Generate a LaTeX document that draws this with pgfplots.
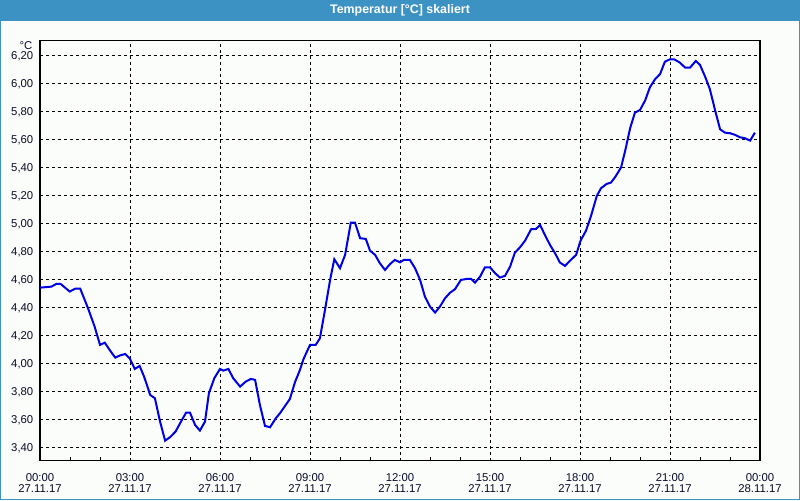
\documentclass[border=0pt]{standalone}
\usepackage{pgfplots}
\pgfplotsset{compat=1.18}
\usepackage{fontspec}
\setmainfont{Liberation Sans}
\definecolor{winblue}{RGB}{61,146,196}
\definecolor{bgc}{RGB}{251,253,251}
\definecolor{curve}{RGB}{0,0,228}
\definecolor{lbl}{RGB}{10,10,40}
\begin{document}
\begin{tikzpicture}
\useasboundingbox (0,0) rectangle (600pt,375pt);
\fill[bgc] (0,0) rectangle (600pt,375pt);
\fill[winblue] (0,359.5pt) rectangle (600pt,375pt);
\draw[winblue, line width=1.1pt] (0.55pt,0.55pt) rectangle (599.45pt,374.45pt);
\node[text=white, font=\fontsize{9.3}{10}\selectfont\bfseries] at (300pt,367.4pt) {Temperatur [°C] skaliert};
\begin{axis}[
  at={(30pt,29.5pt)}, anchor=south west,
  scale only axis, width=540pt, height=315pt,
  xmin=0, xmax=24, ymin=3.309, ymax=6.309,
  axis line style={black, line width=1.1pt},
  xtick={0,3,...,24},
  xticklabels={00:00\\[-2.6pt]27.11.17,03:00\\[-2.6pt]27.11.17,06:00\\[-2.6pt]27.11.17,09:00\\[-2.6pt]27.11.17,12:00\\[-2.6pt]27.11.17,15:00\\[-2.6pt]27.11.17,18:00\\[-2.6pt]27.11.17,21:00\\[-2.6pt]27.11.17,00:00\\[-2.6pt]28.11.17},
  minor xtick={1,2,4,5,7,8,10,11,13,14,16,17,19,20,22,23},
  ytick={3.4,3.6,3.8,4.0,4.2,4.4,4.6,4.8,5.0,5.2,5.4,5.6,5.8,6.0,6.2},
  yticklabel style={xshift=-1.5pt, /pgf/number format/fixed, /pgf/number format/fixed zerofill, /pgf/number format/precision=2, /pgf/number format/use comma, /pgf/number format/assume math mode=true},
  tick label style={font=\fontsize{8.5}{10.2}\selectfont, text=lbl},
  xticklabel style={align=center, yshift=-6.5pt},
  major tick length=0pt, minor tick length=3pt,
  tick align=inside, xtick pos=bottom, ytick pos=left,
  minor tick style={black, line width=0.75pt},
  grid=major,
  major grid style={black, line width=0.75pt, dash pattern=on 2.25pt off 2.25pt},
  clip=false,
]
\addplot[curve, line width=1.5pt] coordinates {
(0,4.545) (0.38,4.552) (0.54,4.571) (0.69,4.571) (0.99,4.517) (1.18,4.538) (1.34,4.538) (1.6,4.398) (1.82,4.267) (2.0,4.136)
(2.16,4.152) (2.32,4.10) (2.51,4.045) (2.66,4.06) (2.84,4.071) (2.99,4.04) (3.16,3.964) (3.32,3.986) (3.47,3.909) (3.6,3.826)
(3.67,3.779) (3.83,3.755) (4.0,3.59) (4.17,3.452) (4.33,3.476) (4.52,3.517) (4.7,3.588) (4.87,3.652) (5.0,3.652) (5.17,3.564)
(5.33,3.524) (5.5,3.588) (5.63,3.79) (5.81,3.898) (6.0,3.964) (6.11,3.952) (6.28,3.964) (6.44,3.898) (6.67,3.838) (6.86,3.874)
(7.03,3.893) (7.17,3.886) (7.33,3.707) (7.5,3.557) (7.67,3.548) (7.86,3.612) (8.0,3.648) (8.33,3.75) (8.5,3.87) (8.67,3.96)
(8.78,4.033) (9.0,4.136) (9.19,4.136) (9.33,4.183) (9.5,4.386) (9.67,4.60) (9.81,4.748) (10.0,4.684) (10.17,4.779) (10.36,5.009)
(10.5,5.009) (10.67,4.898) (10.86,4.893) (11.0,4.809) (11.17,4.779) (11.33,4.719) (11.5,4.671) (11.67,4.714) (11.83,4.743) (12.0,4.726)
(12.13,4.743) (12.33,4.743) (12.5,4.684) (12.67,4.60) (12.83,4.481) (13.0,4.409) (13.17,4.367) (13.33,4.409) (13.5,4.469) (13.67,4.509)
(13.83,4.533) (14.03,4.60) (14.22,4.607) (14.37,4.607) (14.5,4.581) (14.67,4.624) (14.83,4.69) (15.0,4.69) (15.17,4.648) (15.33,4.617)
(15.5,4.629) (15.67,4.695) (15.83,4.795) (16.0,4.833) (16.17,4.881) (16.37,4.962) (16.53,4.964) (16.67,4.993) (16.83,4.921) (17.0,4.85)
(17.17,4.79) (17.33,4.724) (17.5,4.70) (17.67,4.738) (17.87,4.779) (18.02,4.881) (18.2,4.952) (18.36,5.052) (18.56,5.20) (18.7,5.255)
(18.89,5.286) (19.03,5.295) (19.17,5.334) (19.3,5.379) (19.37,5.405) (19.5,5.517) (19.67,5.683) (19.83,5.795) (20.0,5.814) (20.17,5.881)
(20.33,5.976) (20.5,6.033) (20.67,6.071) (20.83,6.159) (21.0,6.176) (21.14,6.176) (21.33,6.152) (21.5,6.117) (21.67,6.117) (21.86,6.164)
(22.0,6.136) (22.17,6.052) (22.33,5.962) (22.5,5.814) (22.67,5.676) (22.83,5.652) (23.0,5.648) (23.17,5.636) (23.33,5.619) (23.5,5.612)
(23.67,5.595) (23.83,5.652)
};
\node[anchor=east, font=\fontsize{8.5}{10}\selectfont, text=lbl, inner sep=0pt] at (axis cs:0,6.275) [xshift=-5.5pt] {°C};
\end{axis}
\end{tikzpicture}
\end{document}
